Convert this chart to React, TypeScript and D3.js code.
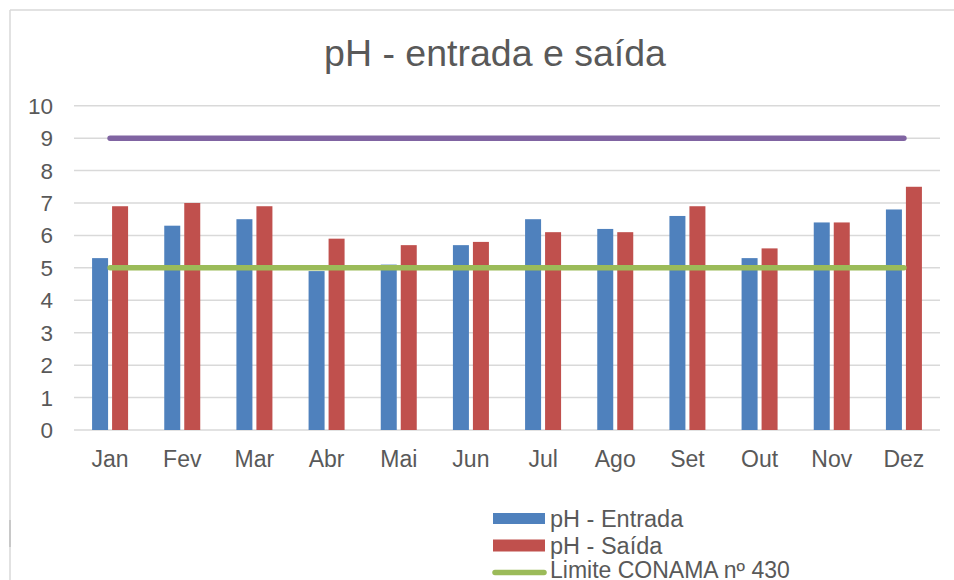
import React from "react";
import * as d3 from "d3";

const months = ["Jan", "Fev", "Mar", "Abr", "Mai", "Jun", "Jul", "Ago", "Set", "Out", "Nov", "Dez"];
const entrada = [5.3, 6.3, 6.5, 4.9, 5.1, 5.7, 6.5, 6.2, 6.6, 5.3, 6.4, 6.8];
const saida = [6.9, 7.0, 6.9, 5.9, 5.7, 5.8, 6.1, 6.1, 6.9, 5.6, 6.4, 7.5];
const limiteConama = [5, 5, 5, 5, 5, 5, 5, 5, 5, 5, 5, 5];
const limiteSuperior = [9, 9, 9, 9, 9, 9, 9, 9, 9, 9, 9, 9];
const yTicks = [0, 1, 2, 3, 4, 5, 6, 7, 8, 9, 10];
const title = "pH - entrada e saída";
const legendLabels = ["pH - Entrada", "pH - Saída", "Limite CONAMA nº 430"];

const W = 954;
const H = 580;
const FONT = "'Liberation Sans', Arial, sans-serif";
const TXT = "#595959";
const BLUE = "#4F81BD";
const RED = "#C0504D";
const GREEN = "#9BBB59";
const PURPLE = "#8064A2";
const GRID = "#D9D9D9";

export default function App() {
  const x = d3.scaleBand<string>().domain(months).range([74, 940]).paddingInner(0).paddingOuter(0);
  const y = d3.scaleLinear().domain([0, 10]).range([430, 105.7]);
  const barW = 16;
  const gap = 4;
  const cx = (m: string) => (x(m) as number) + x.bandwidth() / 2;

  const line = d3
    .line<number>()
    .x((_, i) => cx(months[i]))
    .y((d) => y(d));

  return (
    <svg
      width={W}
      height={H}
      style={{ position: "absolute", left: 0, top: 0, display: "block", background: "#fff" }}
      fontFamily={FONT}
    >
      <rect x={0} y={0} width={W} height={H} fill="#fff" />
      {/* chart border */}
      <line x1={10} y1={10} x2={W} y2={10} stroke={GRID} strokeWidth={1.5} />
      <line x1={10} y1={10} x2={10} y2={H} stroke={GRID} strokeWidth={1.5} />
      <line x1={10} y1={520} x2={10} y2={547} stroke="#BFBFBF" strokeWidth={1.5} />

      <text x={495} y={66} textAnchor="middle" fontSize={37.5} fill={TXT}>
        {title}
      </text>

      {/* gridlines */}
      {yTicks.map((t) => (
        <line key={"g" + t} x1={74} x2={940} y1={y(t)} y2={y(t)} stroke={GRID} strokeWidth={1.5} />
      ))}
      {yTicks.map((t) => (
        <text key={"yt" + t} x={53} y={y(t) + 8} textAnchor="end" fontSize={22.5} fill={TXT}>
          {t}
        </text>
      ))}

      {/* bars */}
      {months.map((m, i) => (
        <g key={"b" + m}>
          <rect
            x={cx(m) - gap / 2 - barW}
            y={y(entrada[i])}
            width={barW}
            height={y(0) - y(entrada[i])}
            fill={BLUE}
          />
          <rect
            x={cx(m) + gap / 2}
            y={y(saida[i])}
            width={barW}
            height={y(0) - y(saida[i])}
            fill={RED}
          />
        </g>
      ))}

      {/* lines */}
      <path d={line(limiteSuperior) || ""} fill="none" stroke={PURPLE} strokeWidth={5.5} strokeLinecap="round" />
      <path d={line(limiteConama) || ""} fill="none" stroke={GREEN} strokeWidth={5.5} strokeLinecap="round" />

      {/* x labels */}
      {months.map((m) => (
        <text key={"xl" + m} x={cx(m)} y={467} textAnchor="middle" fontSize={23} fill={TXT}>
          {m}
        </text>
      ))}

      {/* legend */}
      <rect x={493} y={513} width={52} height={11} fill={BLUE} />
      <text x={550} y={527} fontSize={23.5} fill={TXT}>{legendLabels[0]}</text>
      <rect x={493} y={539.5} width={52} height={12} fill={RED} />
      <text x={550} y={554} fontSize={23.5} fill={TXT}>{legendLabels[1]}</text>
      <line x1={495} x2={544} y1={572.5} y2={572.5} stroke={GREEN} strokeWidth={5.5} strokeLinecap="round" />
      <text x={550} y={578} fontSize={23} fill={TXT}>{legendLabels[2]}</text>
    </svg>
  );
}
